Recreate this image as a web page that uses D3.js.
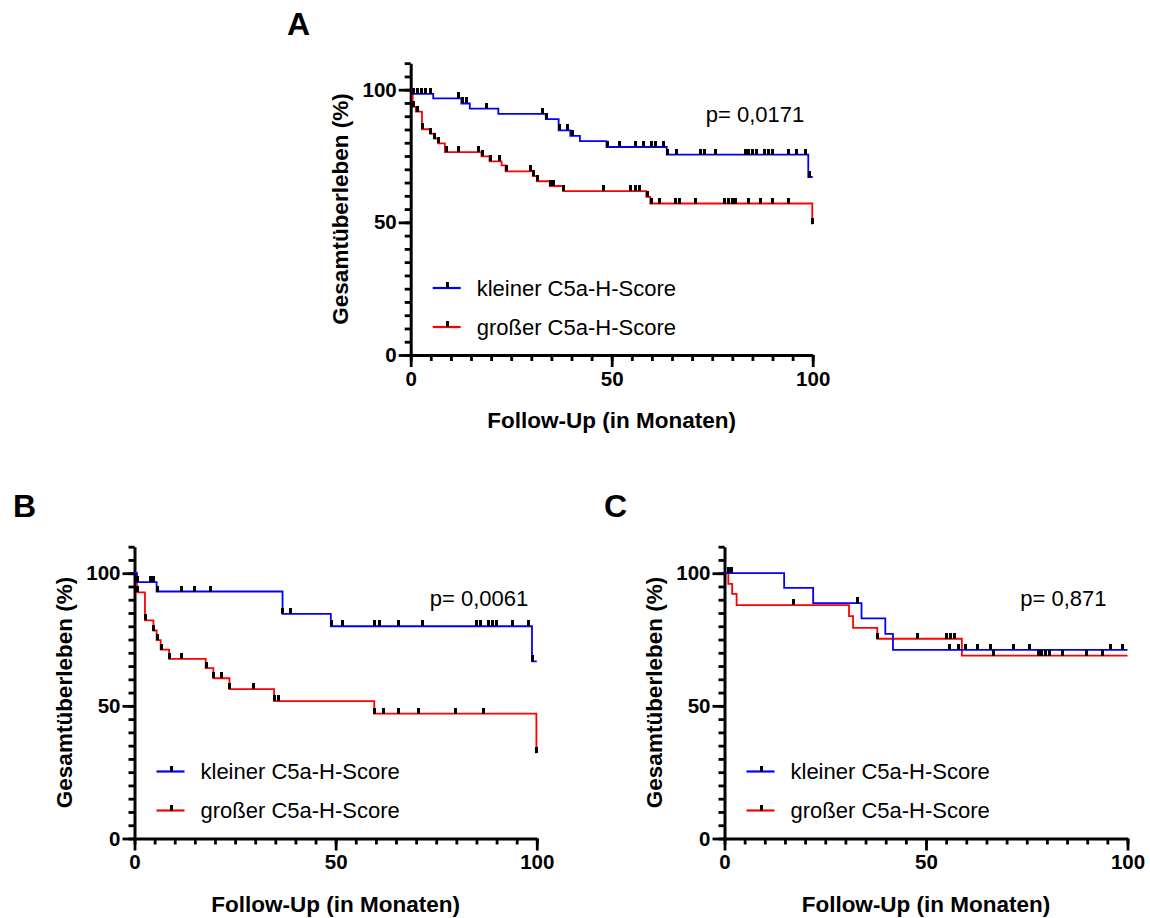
<!DOCTYPE html>
<html>
<head>
<meta charset="utf-8">
<script src="https://cdn.jsdelivr.net/npm/d3@7"></script>
<style>
  body { margin: 0; background: #fff; }
  svg text { font-family: "Liberation Sans", Arial, sans-serif; fill: #000; }
</style>
</head>
<body>
<svg id="chart" width="1150" height="918"></svg>
<script>
// DATA: Kaplan-Meier steps [months, survival %] and censored times (months)
const aKleinSteps = [[0,100],[0.6,98.4],[5.6,96.7],[12.6,94.8],[14.7,92.9],[21.8,90.9],[33.6,88.9],[36.8,84.7],[39.7,82.6],[42.1,80.6],[48.7,78.4],[63.7,75.5],[98.9,67.1]];
const aKleinCensor = [0.8,1.7,2.7,3.7,5.0,11.8,12.9,13.8,18.9,32.8,33.9,37.0,38.9,40.3,48.9,51.9,55.9,57.9,59.9,61.0,62.8,63.9,66.0,72.0,73.0,75.9,83.2,84.0,85.1,86.1,88.0,89.0,90.0,94.0,96.0,98.1,99.1];
const aGrossSteps = [[0,100],[0.5,93.5],[1.3,91.7],[2.8,85.1],[4.9,83.4],[5.9,81.6],[6.8,79.8],[8.5,76.5],[17.6,74.9],[19.6,73.0],[22.6,71.5],[23.6,69.2],[30.4,67.4],[31.4,65.5],[34.6,63.7],[37.9,61.8],[58.6,59.6],[59.6,57.1],[99.9,49.5]];
const aGrossCensor = [0.7,1.7,2.9,5.0,6.0,6.9,8.8,11.8,16.8,17.8,19.8,22.0,23.8,29.7,30.6,31.6,34.8,35.6,38.0,47.9,54.8,55.9,56.9,58.8,59.8,61.8,65.8,66.8,70.9,78.0,79.0,80.0,80.9,84.0,86.9,90.0,94.0,100];

const bKleinSteps = [[0,100],[0.6,96.6],[5.5,93.1],[36.8,84.7],[48.8,80.0],[98.8,66.8]];
const bKleinCensor = [0.7,3.9,4.8,5.6,11.8,14.8,18.8,36.9,38.9,48.9,51.8,59.7,60.8,65.7,71.7,85.0,86.0,87.9,89.0,90.0,93.9,97.9,98.9];
const bGrossSteps = [[0,100],[0.6,92.8],[2.6,82.2],[4.7,78.4],[5.5,74.8],[6.5,71.2],[8.6,67.7],[17.7,64.2],[19.6,60.4],[23.6,56.3],[34.7,51.8],[59.6,47.1],[99.9,32.4]];
const bGrossCensor = [0.7,2.7,4.8,5.6,6.6,8.7,11.8,17.8,19.7,21.7,23.7,29.7,34.8,35.8,59.7,61.8,65.7,70.6,79.8,86.8,100];

const cKleinSteps = [[0,100],[14.8,94.5],[22.0,88.7],[34.0,83.0],[39.9,77.1],[41.8,71.1]];
const cKleinCensor = [0.95,1.8,33.0,55.9,58.0,59.9,62.9,65.9,71.8,75.7,95.9,98.8];
const cGrossSteps = [[0,100],[0.95,96.0],[1.9,92.2],[3.0,88.0],[30.9,83.8],[31.9,79.4],[37.9,75.3],[58.9,68.9]];
const cGrossCensor = [17.1,38.0,47.8,55.1,56.1,57.0,66.8,77.8,78.7,79.7,80.7,83.8,89.8,93.9];

const panelLetters = ['A', 'B', 'C'];
const pValues = ['p= 0,0171', 'p= 0,0061', 'p= 0,871'];
const legendLabels = ['kleiner C5a-H-Score', 'großer C5a-H-Score'];
const xMajorTicks = [0, 50, 100];
const yMajorTicks = [0, 50, 100];
const xTitle = 'Follow-Up (in Monaten)';
const yTitle = 'Gesamtüberleben (%)';

const BLUE = '#0000ff', RED = '#ff0000';

let svg = d3.select('#chart');
svg.append('rect').attr('width', 1150).attr('height', 918).attr('fill', '#fff');

// panel frames (pixel placement of the axes)
const panels = [
    { letter: 0, lx: 287, ly: 35, x0: 410.7, x1: 812.7, y0: 355, kl: aKleinSteps, kc: aKleinCensor, gl: aGrossSteps, gc: aGrossCensor },
    { letter: 1, lx: 13, ly: 517, x0: 134.5, x1: 536.8, y0: 838.5, kl: bKleinSteps, kc: bKleinCensor, gl: bGrossSteps, gc: bGrossCensor },
    { letter: 2, lx: 604, ly: 517, x0: 724.5, x1: 1127.5, y0: 838.5, kl: cKleinSteps, kc: cKleinCensor, gl: cGrossSteps, gc: cGrossCensor }
];

// survival level at time t (after any drop at t)
function levelAt(steps, t) {
    let v = steps[0][1];
    for (let s of steps) { if (s[0] <= t) v = s[1]; }
    return v;
}

function drawPanel(p) {
    let x = d3.scaleLinear().domain([0, 100]).range([p.x0, p.x1]);
    let y = d3.scaleLinear().domain([0, 100]).range([p.y0, p.y0 - 265.3]);
    let g = svg.append('g');

    g.append('text')
        .attr('x', p.lx).attr('y', p.ly)
        .style('font-size', '32px').style('font-weight', 'bold')
        .text(panelLetters[p.letter]);

    // axes: minor ticks every 5, major ticks labelled
    let minorX = d3.range(0, 101, 5), minorY = d3.range(0, 111, 5);
    let xMinor = g.append('g').attr('transform', 'translate(0,' + p.y0 + ')')
        .call(d3.axisBottom(x).tickValues(minorX).tickSize(6).tickSizeOuter(0).tickFormat(''));
    let xMajor = g.append('g').attr('transform', 'translate(0,' + p.y0 + ')')
        .call(d3.axisBottom(x).tickValues(xMajorTicks).tickSize(12).tickSizeOuter(0).tickPadding(4));
    let yMinor = g.append('g').attr('transform', 'translate(' + p.x0 + ',0)')
        .call(d3.axisLeft(y.copy().domain([0, 110]).range([p.y0, y(110)])).tickValues(minorY).tickSize(6).tickSizeOuter(0).tickFormat(''));
    let yMajor = g.append('g').attr('transform', 'translate(' + p.x0 + ',0)')
        .call(d3.axisLeft(y).tickValues(yMajorTicks).tickSize(12).tickSizeOuter(0).tickPadding(2));
    [xMinor, xMajor, yMinor, yMajor].forEach(a => {
        a.selectAll('path.domain').attr('stroke', '#000').attr('stroke-width', 3);
        a.selectAll('.tick line').attr('stroke', '#000').attr('stroke-width', 2.8);
        a.selectAll('.tick text').style('font-size', '20.5px').style('font-weight', 'bold')
            .style('font-family', '"Liberation Sans", Arial, sans-serif');
    });
    yMajor.select('path.domain').remove();
    xMajor.select('path.domain').remove();

    // axis titles
    g.append('text')
        .attr('x', (p.x0 + p.x1) / 2).attr('y', p.y0 + 73)
        .attr('text-anchor', 'middle')
        .style('font-size', '22.5px').style('font-weight', 'bold')
        .text(xTitle);
    g.append('text')
        .attr('transform', 'translate(' + (p.x0 - 62.5) + ',' + (p.y0 - 146) + ') rotate(-90)')
        .attr('text-anchor', 'middle')
        .style('font-size', '22.5px').style('font-weight', 'bold')
        .text(yTitle);

    // curves
    let line = d3.line()
        .x(d => x(d[0]))
        .y(d => y(d[1]))
        .curve(d3.curveStepAfter);
    let series = [
        { steps: p.gl, censor: p.gc, color: RED },
        { steps: p.kl, censor: p.kc, color: BLUE }
    ];
    series.forEach(s => {
        let pts = s.steps.concat([[100, s.steps[s.steps.length - 1][1]]]);
        g.append('path')
            .datum(pts)
            .attr('fill', 'none')
            .attr('stroke', s.color)
            .attr('stroke-width', 1.8)
            .attr('d', line);
    });
    series.forEach(s => {
        g.selectAll(null)
            .data(s.censor)
            .enter()
            .append('rect')
            .attr('x', d => Math.round(x(d) - 1.5))
            .attr('y', d => Math.round(y(levelAt(s.steps, d)) - 6))
            .attr('width', 3)
            .attr('height', 6)
            .attr('fill', '#000');
    });

    // p-value
    g.append('text')
        .attr('x', x(73.4)).attr('y', p.y0 - 233)
        .style('font-size', '22px')
        .text(pValues[p.letter]);

    // legend
    [BLUE, RED].forEach((c, i) => {
        let ly = p.y0 - 67 + i * 39;
        g.append('line')
            .attr('x1', p.x0 + 22).attr('x2', p.x0 + 50)
            .attr('y1', ly).attr('y2', ly)
            .attr('stroke', c).attr('stroke-width', 2.2);
        g.append('rect')
            .attr('x', Math.round(p.x0 + 35)).attr('y', Math.round(ly - 6))
            .attr('width', 3).attr('height', 6)
            .attr('fill', '#000');
        g.append('text')
            .attr('x', p.x0 + 66).attr('y', ly + 7.5)
            .style('font-size', '22px')
            .text(legendLabels[i]);
    });
}

panels.forEach(drawPanel);
</script>
</body>
</html>
